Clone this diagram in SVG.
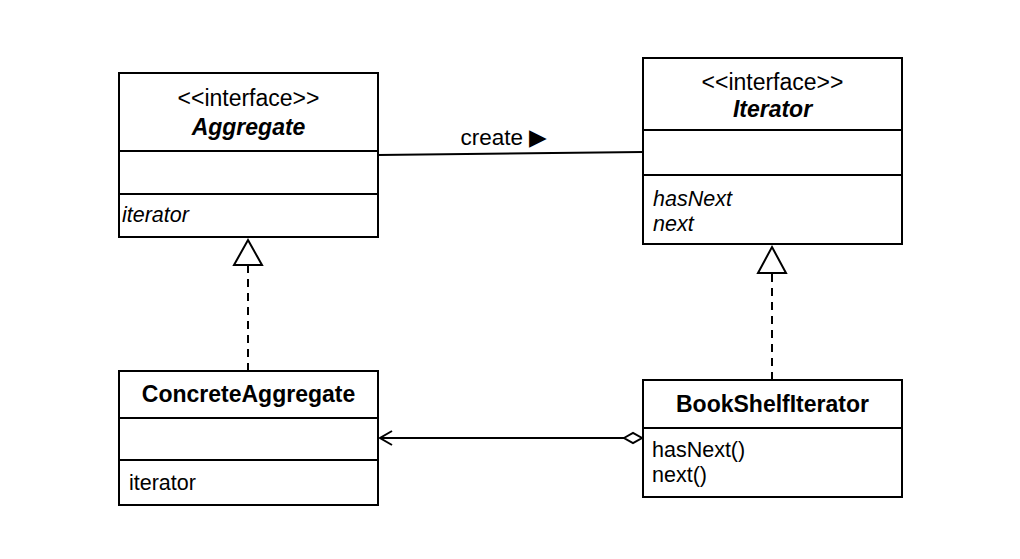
<svg xmlns="http://www.w3.org/2000/svg" width="1020" height="559" viewBox="0 0 1020 559">
<style>
.box{fill:#fff;stroke:#000;stroke-width:2}
.ln{stroke:#000;stroke-width:2;fill:none}
.t{font-family:"Liberation Sans",Arial,sans-serif;font-size:21.5px;fill:#000}
.s{font-size:23px}
.b{font-weight:bold;font-size:23px}
.i{font-style:italic}
.m{text-anchor:middle}
</style>
<rect width="1020" height="559" fill="#fff"/>
<g id="connectors">
<line class="ln" x1="378" y1="155" x2="643" y2="152"/>
<text class="t m" x="504" y="145" style="font-size:22.5px">create ▶</text>
<line class="ln" x1="248" y1="371" x2="248" y2="266" stroke-dasharray="8,6"/>
<path d="M248,240 L262,265 L234,265 Z" fill="#fff" stroke="#000" stroke-width="2"/>
<line class="ln" x1="772" y1="380" x2="772" y2="274" stroke-dasharray="8,6"/>
<path d="M772,247 L786,273 L758,273 Z" fill="#fff" stroke="#000" stroke-width="2"/>
<line class="ln" x1="380" y1="438" x2="624" y2="438"/>
<path d="M392,431 L380,438 L392,445" class="ln"/>
<path d="M624,438 L633,433 L642,438 L633,443 Z" fill="#fff" stroke="#000" stroke-width="2"/>
</g>
<g id="aggregate">
<rect class="box" x="119" y="73" width="259" height="164"/>
<line class="ln" x1="119" y1="151" x2="378" y2="151"/>
<line class="ln" x1="119" y1="194" x2="378" y2="194"/>
<text class="t m s" x="248.5" y="106">&lt;&lt;interface&gt;&gt;</text>
<text class="t m b i" x="248.5" y="135">Aggregate</text>
<text class="t i" x="122" y="222">iterator</text>
</g>
<g id="iterator">
<rect class="box" x="643" y="58" width="259" height="186"/>
<line class="ln" x1="643" y1="130" x2="902" y2="130"/>
<line class="ln" x1="643" y1="175" x2="902" y2="175"/>
<text class="t m s" x="772.5" y="90">&lt;&lt;interface&gt;&gt;</text>
<text class="t m b i" x="772.5" y="117">Iterator</text>
<text class="t i" x="653" y="206">hasNext</text>
<text class="t i" x="653" y="231">next</text>
</g>
<g id="concreteAggregate">
<rect class="box" x="119" y="371" width="259" height="134"/>
<line class="ln" x1="119" y1="418" x2="378" y2="418"/>
<line class="ln" x1="119" y1="460" x2="378" y2="460"/>
<text class="t m b" x="248.5" y="402">ConcreteAggregate</text>
<text class="t" x="129" y="490">iterator</text>
</g>
<g id="bookShelfIterator">
<rect class="box" x="643" y="380" width="259" height="117"/>
<line class="ln" x1="643" y1="428" x2="902" y2="428"/>
<text class="t m b" x="772.5" y="412">BookShelfIterator</text>
<text class="t" x="652" y="457">hasNext()</text>
<text class="t" x="652" y="482">next()</text>
</g>
</svg>
